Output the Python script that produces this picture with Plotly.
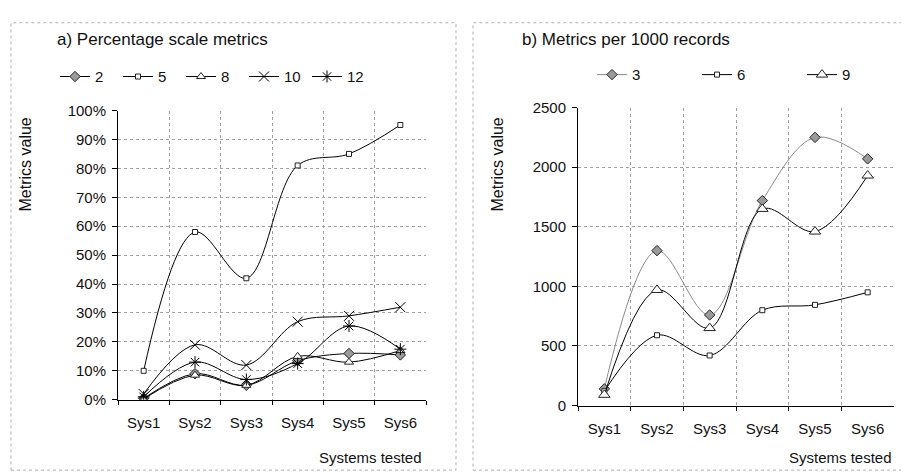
import plotly.graph_objects as go

# categories shared by both panels
systems = ["Sys1", "Sys2", "Sys3", "Sys4", "Sys5", "Sys6"]

# a) percentage scale metrics (values in %)
a_names = ["2", "5", "8", "10", "12"]
a_m2 = [0.5, 9, 5, 13.5, 16, 15.5]
a_m5 = [10, 58, 42, 81, 85, 95]
a_m8 = [0.3, 8.5, 5, 15, 13, 17]
a_m10 = [2, 19, 12, 27, 29, 32]
a_m12 = [1, 13, 7, 12.5, 25.5, 17.5]

# b) metrics per 1000 records
b_names = ["3", "6", "9"]
b_m3 = [140, 1300, 760, 1720, 2250, 2070]
b_m6 = [120, 590, 420, 800, 845, 950]
b_m9 = [90, 970, 650, 1650, 1460, 1930]

W, H = 909, 474
FONT = "Liberation Sans, Arial, sans-serif"


def px(x):
    return x / W


def py(y):
    return 1 - y / H


fig = go.Figure()


def add_line(x, y, name, symbol, size, xa, ya, leg, fill="white", lcolor="black", lwidth=1):
    fig.add_trace(go.Scatter(
        x=x, y=y, name=name, mode="lines+markers",
        line=dict(color=lcolor, width=lwidth, shape="spline"),
        marker=dict(symbol=symbol, size=size, color=fill,
                    line=dict(color="#222", width=1)),
        xaxis=xa, yaxis=ya, legend=leg,
    ))


# panel a
add_line(systems, a_m2, a_names[0], "diamond", 8, "x", "y", "legend", fill="#9a9a9a")
add_line(systems, a_m5, a_names[1], "square", 5, "x", "y", "legend")
add_line(systems, a_m8, a_names[2], "triangle-up", 8, "x", "y", "legend")
add_line(systems, a_m10, a_names[3], "x-thin-open", 10, "x", "y", "legend", fill="black")
add_line(systems, a_m12, a_names[4], "asterisk-open", 10, "x", "y", "legend", fill="black")

# panel b
add_line(systems, b_m3, b_names[0], "diamond", 8, "x2", "y2", "legend2",
         fill="#9a9a9a", lcolor="#8a8a8a")
add_line(systems, b_m6, b_names[1], "square", 5, "x2", "y2", "legend2")
add_line(systems, b_m9, b_names[2], "triangle-up", 10, "x2", "y2", "legend2")

xcommon = dict(type="category", tickson="boundaries", range=[-0.5, 5.5],
               showgrid=True, gridcolor="#a0a0a0", griddash="dot", gridwidth=1,
               showline=True, linecolor="black", linewidth=1,
               ticks="outside", ticklen=4, tickcolor="black", ticklabelstandoff=9,
               tickfont=dict(size=15), zeroline=False, fixedrange=True)
ycommon = dict(showgrid=True, gridcolor="#a0a0a0", griddash="dot", gridwidth=1,
               showline=True, linecolor="black", linewidth=1,
               ticks="outside", ticklen=5, tickcolor="black", ticklabelstandoff=3,
               tickfont=dict(size=15), zeroline=False)

legcommon = dict(orientation="h", yanchor="middle", xanchor="left",
                 bgcolor="rgba(0,0,0,0)", font=dict(size=15),
                 itemclick=False, itemdoubleclick=False)

fig.update_layout(
    width=W, height=H,
    margin=dict(l=0, r=0, t=0, b=0),
    paper_bgcolor="white", plot_bgcolor="white",
    font=dict(family=FONT, size=14, color="#111"),
    xaxis=dict(domain=[px(110), px(418)], anchor="y", **xcommon),
    yaxis=dict(domain=[py(397), py(97)], anchor="x", range=[0, 100], dtick=10,
               ticksuffix="%", **ycommon),
    xaxis2=dict(domain=[px(570), px(886)], anchor="y2", **xcommon),
    yaxis2=dict(domain=[py(403), py(94)], anchor="x2", range=[0, 2500], dtick=500,
                **ycommon),
    legend=dict(x=px(47), y=py(62), entrywidth=18, **legcommon),
    legend2=dict(x=px(584), y=py(60), entrywidth=60, **legcommon),
    annotations=[
        dict(text="a) Percentage scale metrics", x=px(47), y=py(23), xref="paper",
             yref="paper", xanchor="left", yanchor="middle", showarrow=False,
             font=dict(size=17)),
        dict(text="b) Metrics per 1000 records", x=px(512), y=py(23), xref="paper",
             yref="paper", xanchor="left", yanchor="middle", showarrow=False,
             font=dict(size=17)),
        dict(text="Metrics value", x=px(18), y=py(153), xref="paper", yref="paper",
             xanchor="center", yanchor="middle", textangle=-90, showarrow=False,
             font=dict(size=16)),
        dict(text="Metrics value", x=px(490), y=py(153), xref="paper", yref="paper",
             xanchor="center", yanchor="middle", textangle=-90, showarrow=False,
             font=dict(size=16)),
        dict(text="Systems tested", x=px(416), y=py(457), xref="paper", yref="paper",
             xanchor="right", yanchor="middle", showarrow=False, font=dict(size=15)),
        dict(text="Systems tested", x=px(886), y=py(457), xref="paper", yref="paper",
             xanchor="right", yanchor="middle", showarrow=False, font=dict(size=15)),
    ],
    shapes=[
        dict(type="rect", xref="paper", yref="paper", x0=px(3), x1=px(448),
             y0=py(470), y1=py(6), line=dict(color="#b0b0b0", width=1, dash="dot")),
        dict(type="rect", xref="paper", yref="paper", x0=px(465), x1=px(906),
             y0=py(470), y1=py(6), line=dict(color="#b0b0b0", width=1, dash="dot")),
    ],
    showlegend=True,
)

fig.write_html("out.html")
